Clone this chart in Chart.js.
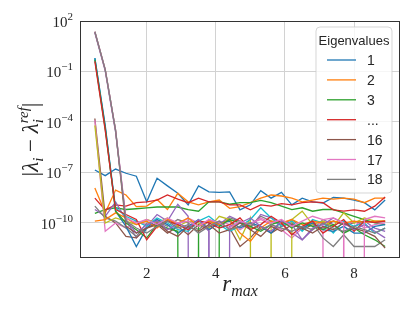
<!DOCTYPE html>
<html>
<head>
<meta charset="utf-8">
<script src="https://cdn.jsdelivr.net/npm/chart.js@4.4.0/dist/chart.umd.min.js"></script>
<style>
  html, body { margin: 0; padding: 0; background: #fff; }
</style>
</head>
<body>
<canvas id="chart" width="415" height="312"></canvas>
<script>
// r_max values (x axis)
const rMax = [0.5, 0.8, 1.1, 1.4, 1.7, 2.0, 2.3, 2.6, 2.9, 3.2, 3.5, 3.8, 4.1, 4.4, 4.7,
              5.0, 5.3, 5.6, 5.9, 6.2, 6.5, 6.8, 7.1, 7.4, 7.7, 8.0, 8.3, 8.6, 8.9];

// exact zero error -> clipped at the bottom like matplotlib does on a log axis
const ZERO = 1e-300;

// |lambda_i - lambda_i^ref| for eigenvalues 1..18
const eig1 = [1.4e-7, 6.5e-8, 1.6e-7, 9e-8, 6e-8, 1.8e-9, 4.5e-8, 1.6e-8, 5.8e-9, 1.2e-9, 1.6e-8, 7e-9, 6.6e-9, 7e-9, 6e-10,
              1.2e-9, 8.3e-9, 3e-9, 6.6e-9, 1.2e-9, 3e-9, 1.8e-9, 1.5e-9, 3.3e-9, 3e-9, 2.3e-9, 1.6e-9, 6e-10, 2.3e-9];
const eig2 = [1.2e-8, 4e-10, 9e-9, 4.6e-9, 9.3e-10, 1e-9, 2.5e-9, 6.3e-10, 5.8e-9, 1.8e-9, 1.2e-9, 1.8e-9, 2.3e-9, 7.4e-10, 9.3e-10,
              1.6e-9, 3e-9, 4.6e-9, 4e-9, 3e-9, 1.8e-9, 2.3e-9, 3e-9, 2.6e-9, 3e-9, 2.6e-9, 1.6e-9, 3e-9, 3e-9];
const eig3 = [3.7e-10, 6.3e-10, 8e-10, 6.3e-10, 7e-10, 8e-10, 8.9e-10, 8.9e-10, 8.9e-10, 6.3e-10, 5e-10, 1.8e-9, 1.8e-9, 1.3e-9, 1.6e-9,
              1.6e-9, 2.2e-9, 1.6e-9, 1e-9, 6.3e-10, 8e-10, 5e-10, 6.3e-10, 6.3e-10, 4e-10, 2.5e-10, 1.6e-10, 1e-10, 8e-11];
const eig4 = [3e-9, 6e-10, 1.2e-9, 1e-9, 1.6e-9, 1.8e-9, 2.3e-9, 4.6e-9, 2.6e-9, 1.6e-9, 3e-9, 1.8e-9, 1.8e-9, 1.2e-9, 1.2e-9,
              6e-10, 1.2e-9, 1e-9, 1.4e-9, 1.2e-9, 1.6e-9, 1.8e-9, 1.6e-9, 6e-10, 5e-10, 6e-10, 5e-10, 1e-9, 3.5e-9];
const eig5 = [6.3e-10, 2.5e-10, 1.8e-9, 1.6e-10, 1.3e-11, 6.3e-11, 3.2e-10, 1.3e-10, 1.3e-9, 2.5e-10, ZERO, 1.6e-10, 8e-11, 2.5e-10, 1.3e-10,
              5e-11, 3.2e-10, 2e-10, 1e-10, 2.5e-11, 1e-11, 4e-11, 1.6e-10, 8e-11, 2.5e-11, 6.3e-11, 1.3e-10, 5e-11, 3.2e-11];
const eig6 = [1.6e-4, 2.5e-10, 1e-10, 1.6e-11, 1.3e-11, 5e-11, 8e-11, 2.5e-11, 6.3e-11, 2e-11, 8e-11, 4e-11, 1e-10, 5e-11, 4e-12,
              1.3e-11, 6.3e-11, 2.5e-11, 6.3e-11, 1e-10, 4e-11, 8e-11, 5e-11, 1.3e-10, 8e-11, 1e-10, 1.3e-10, 1.1e-10, 1.3e-10];
const eig7 = [1.3e-4, 3.2e-11, 1e-10, 5e-11, 1.3e-10, 8e-11, 1.6e-10, 4e-11, 8e-11, 2e-10, 1e-10, 5e-11, 1.3e-10, 8e-11, 4e-11,
              1e-10, 1.6e-10, 8e-11, 4e-11, 1.3e-11, 5e-11, 1.3e-10, 8e-11, ZERO, 6.3e-11, 1.3e-10, 5e-11, 8e-11, 1e-10];
const eig8 = [1e-9, 2e-10, 1.3e-10, 5e-11, 1.6e-11, 1e-10, 1.3e-10, 6.3e-11, 1.6e-10, 1e-10, 4e-11, 1.3e-10, 6.3e-11, 2e-10, 1.3e-10,
              6.3e-11, 2.5e-10, 1.3e-10, 8e-11, 1.6e-10, 5e-11, 1e-10, 1.3e-11, 4e-12, 2e-11, 4e-12, 4e-12, 4e-12, 1e-11];
const eig9 = [6.3e-5, 1e-10, 2e-10, 1.3e-10, 8e-11, 1.6e-10, 1e-10, 2e-10, 6.3e-11, 1.3e-10, 1e-10, 5e-11, 2.5e-10, 1.6e-10, 1e-11,
              2e-10, ZERO, 1e-10, ZERO, 1.6e-10, 5e-10, 8e-11, 1.3e-10, 6.3e-11, 4e-10, 1e-10, 2e-10, 1.3e-10, 1.3e-10];
const eig10 = [0.63, 5e-5, 8e-10, 2.5e-10, 1.3e-10, 6.3e-11, 2e-10, 1e-10, 4e-11, 3.2e-11, 1.3e-10, 2.5e-10, 8e-11, 3.2e-11, 6.3e-11,
               1.6e-10, 8e-10, 2e-10, 6.3e-11, 1.3e-10, 3.2e-11, 1.6e-10, 1e-10, 2.5e-11, 1.3e-10, 6.3e-11, 1e-10, 2.5e-11, 5e-11];
const eig11 = [0.63, 6.3e-5, 5e-10, 6.3e-11, 4e-12, 5e-11, 1.6e-10, 8e-11, 2.5e-11, 6.3e-11, 1.6e-10, 4e-11, 1e-10, 1.3e-10, 5e-11,
               1e-10, 6.3e-11, 2.5e-11, 1.3e-10, 8e-11, 5e-11, 1e-10, 4e-11, 3.2e-11, 6.3e-11, 2.5e-11, 2.5e-11, 6.3e-11, 8e-11];
const eig12 = [1.3e-10, 1.6e-10, 4e-10, 2e-10, 8e-11, 1.3e-10, 5e-11, 1.6e-10, 1e-10, 2e-10, 6.3e-11, 1.3e-10, 8e-11, 1.6e-10, 2.5e-11,
               8e-12, 5e-11, 1.3e-10, 1e-10, 1.6e-10, 8e-11, 1.3e-10, 1e-10, 1.3e-10, 1e-10, 1.3e-10, 1.1e-10, 1.3e-10, 1.3e-10];
const eig13 = [0.5, 4e-5, 5e-10, 1e-10, 4e-11, 1.3e-11, 8e-11, 5e-11, 3.2e-11, ZERO, 8e-11, ZERO, 6.3e-11, 1.6e-10, 1e-10,
               6.3e-11, 3.2e-11, 8e-11, 1.3e-10, 5e-11, 1e-10, 6.3e-11, 4e-11, 8e-11, 2.5e-11, 5e-11, 2e-11, 1e-11, 4e-12];
const eig14 = [0.4, 3.2e-5, 6.3e-10, 3.2e-10, 1.6e-10, 1e-11, 6.3e-11, 1.3e-10, 8e-11, 4e-11, 1.3e-10, 1e-10, 5e-11, 8e-11, 2e-10,
               4e-11, 8e-11, 2.5e-10, 1e-10, 2e-11, 6.3e-11, 1.3e-10, 2.5e-11, 6.3e-11, 1.6e-10, 3.2e-11, 1.3e-10, 1.1e-10, 1.3e-10];
const eig15 = [20, 0.11, 2.5e-5, 1.6e-10, 2.5e-11, 8e-11, 1.3e-10, 4e-11, 1e-10, 5e-11, 1.6e-10, 3.2e-11, ZERO, 6.3e-11, 1e-10,
               2e-10, 6.3e-11, 3.2e-11, 1.3e-10, 8e-11, 1e-11, 5e-11, 8e-11, 2e-10, 1e-10, 4e-11, 8e-11, 3.2e-11, 1.3e-11];
const eig16 = [23, 0.13, 3.2e-5, 6.3e-11, 2.5e-11, 5e-11, 1e-10, 3.2e-11, 1.6e-11, 6.3e-11, 3.2e-11, 8e-11, 2.5e-11, 4e-11, 1e-10,
               4e-11, 1.6e-11, 6.3e-11, 3.2e-11, 8e-11, 5e-11, 2.5e-11, 6.3e-11, 4e-11, 1e-10, 5e-11, 3.2e-11, 1.6e-11, 3.2e-12];
const eig17 = [23, 0.13, 3.2e-5, 2e-10, 1e-10, 1.6e-10, 8e-11, 2e-10, 1e-10, 1.3e-10, 6.3e-11, 1.6e-10, 1e-10, 5e-11, 1.3e-10,
               8e-11, 2e-10, 1e-10, 1.6e-10, 6.3e-11, 1.3e-10, 2.5e-10, 1.6e-10, 2e-10, 1e-10, ZERO, 1.6e-10, 2.5e-10, 2e-10];
const eig18 = [23, 0.13, 3.2e-5, 1.3e-10, 5e-11, 2.5e-11, 6.3e-11, 1.3e-10, 5e-11, 8e-11, 2.5e-11, 6.3e-11, 1.3e-10, 4e-11, 6.3e-11,
               1e-10, 4e-11, 8e-11, 5e-11, 3.2e-11, 6.3e-11, 4e-11, 1e-10, 5e-11, 3.2e-11, 6.3e-11, 4e-11, 2.5e-11, 5e-11];

const allSeries = [eig1, eig2, eig3, eig4, eig5, eig6, eig7, eig8, eig9,
                   eig10, eig11, eig12, eig13, eig14, eig15, eig16, eig17, eig18];

const xTicks = [2, 4, 6, 8];
const yTicks = [1e2, 1e-1, 1e-4, 1e-7, 1e-10];
const yExponents = ['2', '\u22121', '\u22124', '\u22127', '\u221210'];

// legend shows only some of the eigenvalues
const legendIndex = [0, 1, 2, 3, 15, 16, 17];
const legendText = ['1', '2', '3', '...', '16', '17', '18'];

const tab10 = ['#1f77b4', '#ff7f0e', '#2ca02c', '#d62728', '#9467bd',
               '#8c564b', '#e377c2', '#7f7f7f', '#bcbd22', '#17becf'];

const SERIF = '"Liberation Serif", "DejaVu Serif", serif';
const SANS = '"Liberation Sans Narrow", "Liberation Sans", sans-serif';

function runFont(r) {
    return (r.it ? 'italic ' : '') + r.size + 'px ' + SERIF;
}

// lay out text runs (sub/superscripts); a run with stack:true shares x with the previous run
function measureRuns(ctx, runs) {
    let cur = 0, prevStart = 0;
    const pos = [];
    runs.forEach(r => {
        ctx.font = runFont(r);
        const w = ctx.measureText(r.t).width;
        const start = r.stack ? prevStart : cur;
        pos.push(start);
        cur = Math.max(cur, start + w);
        prevStart = start;
    });
    return {pos, width: cur};
}

function drawRuns(ctx, runs, x0, baseY) {
    const m = measureRuns(ctx, runs);
    runs.forEach((r, i) => {
        ctx.font = runFont(r);
        ctx.fillText(r.t, x0 + m.pos[i], baseY + (r.dy || 0));
    });
    return m.width;
}

const decorPlugin = {
    id: 'decor',
    afterDatasetsDraw(chart) {
        const ctx = chart.ctx;
        const a = chart.chartArea;
        ctx.save();
        // frame (all four spines)
        ctx.strokeStyle = '#333';
        ctx.lineWidth = 1;
        ctx.strokeRect(a.left + 0.5, a.top + 0.5, a.right - a.left - 1, a.bottom - a.top - 1);

        ctx.fillStyle = '#262626';
        ctx.textAlign = 'left';
        ctx.textBaseline = 'alphabetic';

        // y tick labels 10^n
        const ys = chart.scales.y;
        ys.ticks.forEach((t, i) => {
            const py = ys.getPixelForValue(t.value);
            const runs = [{t: '10', size: 15}, {t: yExponents[i], size: 11, dy: -7}];
            const w = measureRuns(ctx, runs).width;
            drawRuns(ctx, runs, a.left - 7 - w, py + 6);
        });

        // x title r_max
        const xr = [{t: 'r', size: 23, it: true}, {t: 'max', size: 16, it: true, dy: 5}];
        const xw = measureRuns(ctx, xr).width;
        drawRuns(ctx, xr, (a.left + a.right) / 2 - xw / 2, 291);

        // y title |lambda_i - lambda_i^ref|
        const yr = [
            {t: '|', size: 23},
            {t: '\u03bb', size: 23, it: true},
            {t: 'i', size: 15, it: true, dy: 5},
            {t: ' \u2212 ', size: 23},
            {t: '\u03bb', size: 23, it: true},
            {t: 'i', size: 15, it: true, dy: 5},
            {t: 'ref', size: 15, it: true, dy: -10, stack: true},
            {t: '|', size: 23}
        ];
        const yw = measureRuns(ctx, yr).width;
        ctx.translate(30, (a.top + a.bottom) / 2);
        ctx.rotate(-Math.PI / 2);
        drawRuns(ctx, yr, -yw / 2, 8);
        ctx.restore();

        // legend box
        ctx.save();
        const bw = 76, bh = 166;
        const bx = a.right - 8 - bw, by = a.top + 6;
        ctx.beginPath();
        ctx.roundRect(bx, by, bw, bh, 4);
        ctx.fillStyle = 'rgba(255,255,255,0.8)';
        ctx.fill();
        ctx.strokeStyle = 'rgba(204,204,204,0.8)';
        ctx.lineWidth = 1;
        ctx.stroke();

        ctx.fillStyle = '#262626';
        ctx.font = '13px ' + SANS;
        ctx.textAlign = 'center';
        ctx.fillText('Eigenvalues', bx + bw / 2, by + 18);
        ctx.textAlign = 'left';
        ctx.font = '14px ' + SANS;
        legendIndex.forEach((di, j) => {
            const ly = by + 33 + j * 19.9;
            ctx.strokeStyle = chart.data.datasets[di].borderColor;
            ctx.lineWidth = 1.3;
            ctx.beginPath();
            ctx.moveTo(bx + 11, ly);
            ctx.lineTo(bx + 40, ly);
            ctx.stroke();
            ctx.fillStyle = '#262626';
            ctx.fillText(legendText[j], bx + 51, ly + 5);
        });
        ctx.restore();
    }
};

const datasets = allSeries.map((vals, i) => ({
    label: String(i + 1),
    data: rMax.map((r, k) => ({x: r, y: vals[k]})),
    borderColor: tab10[i % 10],
    borderWidth: 1.3,
    pointRadius: 0,
    tension: 0,
    fill: false,
    order: allSeries.length - i
}));

new Chart(document.getElementById('chart'), {
    type: 'line',
    data: {datasets},
    options: {
        responsive: false,
        animation: false,
        devicePixelRatio: 1,
        layout: {padding: {top: 21, right: 15, left: 0, bottom: 0}},
        plugins: {legend: {display: false}, tooltip: {enabled: false}},
        scales: {
            x: {
                type: 'linear',
                min: 0.07,
                max: 9.33,
                afterBuildTicks: s => { s.ticks = xTicks.map(v => ({value: v})); },
                afterFit: s => { s.height = 54; },
                grid: {color: '#d2d2d2', lineWidth: 1, drawTicks: false},
                border: {display: false},
                ticks: {
                    padding: 7,
                    color: '#262626',
                    font: {family: SERIF, size: 15},
                    callback: v => String(v)
                }
            },
            y: {
                type: 'logarithmic',
                min: 8.3e-13,
                max: 100,
                afterBuildTicks: s => { s.ticks = yTicks.map(v => ({value: v})); },
                afterFit: s => { s.width = 80; },
                grid: {color: '#d2d2d2', lineWidth: 1, drawTicks: false},
                border: {display: false},
                ticks: {display: false}
            }
        }
    },
    plugins: [decorPlugin]
});
</script>
</body>
</html>
